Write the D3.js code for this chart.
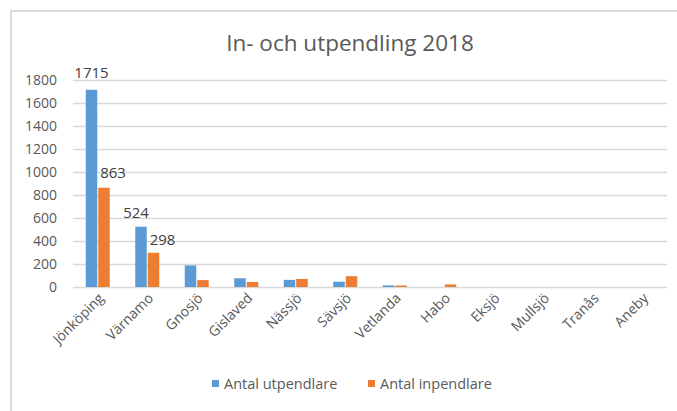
<!DOCTYPE html>
<html>
<head>
<meta charset="utf-8">
<script src="https://cdn.jsdelivr.net/npm/d3@7"></script>
<style>
  body { margin: 0; background: #fff; }
  svg { font-family: "Open Sans", sans-serif; }
</style>
</head>
<body>
<div id="chart"></div>
<script>
// data
const kommuner = ["Jönköping", "Värnamo", "Gnosjö", "Gislaved", "Nässjö", "Sävsjö", "Vetlanda", "Habo", "Eksjö", "Mullsjö", "Tranås", "Aneby"];
const utpendlare = [1715, 524, 188, 76, 62, 46, 14, 0, 0, 0, 0, 0];
const inpendlare = [863, 298, 60, 44, 70, 94, 13, 22, 0, 0, 0, 0];
const yTicks = [0, 200, 400, 600, 800, 1000, 1200, 1400, 1600, 1800];
const seriesNames = ["Antal utpendlare", "Antal inpendlare"];
const colors = ["#5B9BD5", "#ED7D31"];

const width = 677, height = 411;
const margin = {top: 80, right: 10, bottom: 124, left: 73};

let svg = d3.select("#chart").append("svg")
    .attr("width", width)
    .attr("height", height);

// chart frame (only top and left edges show in the crop)
svg.append("path")
    .attr("d", `M11,${height} L11,11 L${width},11`)
    .attr("fill", "none")
    .attr("stroke", "#d9d9d9")
    .attr("stroke-width", 2);

svg.append("text")
    .attr("x", 350)
    .attr("y", 51)
    .attr("text-anchor", "middle")
    .attr("fill", "#595959")
    .style("font-size", "22.5px")
    .text("In- och utpendling 2018");

let x = d3.scaleBand()
    .domain(kommuner)
    .range([margin.left, width - margin.right]);

// two bars of ~11px with a small gap, centred in each band
let bw = x.bandwidth();
let x1 = d3.scaleBand()
    .domain([0, 1])
    .range([bw / 2 - 12, bw / 2 + 12])
    .paddingInner(0.08);

let y = d3.scaleLinear()
    .domain([0, 1800])
    .range([height - margin.bottom, margin.top]);

// gridlines
svg.append("g")
    .selectAll("line")
    .data(yTicks)
    .enter()
    .append("line")
    .attr("x1", margin.left)
    .attr("x2", width - margin.right)
    .attr("y1", d => Math.round(y(d)) + 0.5)
    .attr("y2", d => Math.round(y(d)) + 0.5)
    .attr("stroke", "#d9d9d9")
    .attr("stroke-width", 1.5);

// y axis labels
svg.append("g")
    .attr("transform", `translate(${margin.left - 16},0)`)
    .call(d3.axisLeft(y).tickValues(yTicks).tickFormat(d3.format("d")).tickSize(0).tickPadding(0))
    .call(g => g.select(".domain").remove())
    .call(g => g.selectAll("text")
        .attr("fill", "#595959")
        .style("font-size", "14px")
        .style("font-family", "'Open Sans', sans-serif"));

// bars
let series = [utpendlare, inpendlare];
series.forEach(function(vals, s) {
    svg.append("g")
        .selectAll("rect")
        .data(kommuner)
        .enter()
        .append("rect")
        .attr("x", d => x(d) + x1(s))
        .attr("y", (d, i) => y(vals[i]))
        .attr("width", x1.bandwidth())
        .attr("height", (d, i) => y(0) - y(vals[i]))
        .attr("fill", colors[s]);
});

// data labels (only on the first two places, like the original)
let labels = [
    {k: "Jönköping", s: 0, v: utpendlare[0], dx: 0, dy: -12},
    {k: "Jönköping", s: 1, v: inpendlare[0], dx: 9, dy: -10},
    {k: "Värnamo", s: 0, v: utpendlare[1], dx: -5, dy: -9},
    {k: "Värnamo", s: 1, v: inpendlare[1], dx: 9, dy: -8}
];
svg.append("g")
    .selectAll("text")
    .data(labels)
    .enter()
    .append("text")
    .attr("x", d => x(d.k) + x1(d.s) + x1.bandwidth() / 2 + d.dx)
    .attr("y", d => y(d.v) + d.dy)
    .attr("text-anchor", "middle")
    .attr("fill", "#404040")
    .style("font-size", "15px")
    .text(d => d.v);

// x axis category labels, rotated
svg.append("g")
    .selectAll("text")
    .data(kommuner)
    .enter()
    .append("text")
    .attr("transform", d => `translate(${x(d) + bw / 2 + 7},${y(0) + 12}) rotate(-45)`)
    .attr("text-anchor", "end")
    .attr("fill", "#595959")
    .style("font-size", "14px")
    .text(d => d);

// legend
let legend = svg.append("g");
let legendX = [212, 368];
seriesNames.forEach(function(name, i) {
    legend.append("rect")
        .attr("x", legendX[i])
        .attr("y", 380)
        .attr("width", 7)
        .attr("height", 7)
        .attr("fill", colors[i]);
    legend.append("text")
        .attr("x", legendX[i] + 12)
        .attr("y", 389)
        .attr("fill", "#595959")
        .style("font-size", "14.5px")
        .text(name);
});
</script>
</body>
</html>
